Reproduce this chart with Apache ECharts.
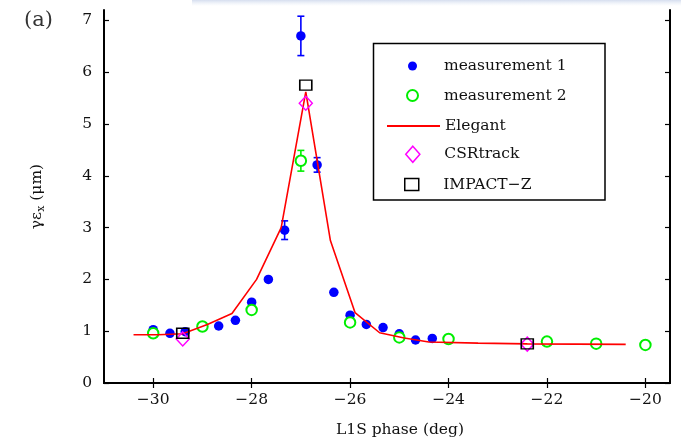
<!DOCTYPE html>
<html>
<head>
<meta charset="utf-8">
<script src="https://cdn.jsdelivr.net/npm/echarts@6/dist/echarts.min.js"></script>
<style>
  html, body { margin: 0; padding: 0; background: #fff; }
  #chart { width: 681px; height: 443px; }
</style>
</head>
<body>
<div id="chart"></div>
<script>
// measurement 1 (blue dots)
const m1X = [-30.0, -29.66, -29.35, -28.67, -28.33, -28.0, -27.66, -27.33, -27.0, -26.67, -26.33, -26.0, -25.67, -25.33, -25.0, -24.67, -24.33];
const m1Y = [1.03, 0.96, 0.99, 1.10, 1.21, 1.56, 2.0, 2.95, 6.70, 4.21, 1.75, 1.31, 1.13, 1.07, 0.95, 0.83, 0.86];
const m1Err = [0.03, 0.03, 0.03, 0.03, 0.03, 0.04, 0.04, 0.18, 0.38, 0.14, 0.03, 0.04, 0.03, 0.03, 0.03, 0.03, 0.03];

// measurement 2 (green circles)
const m2X = [-30, -29, -28, -27, -26, -25, -24, -22, -21, -20];
const m2Y = [0.96, 1.09, 1.41, 4.29, 1.17, 0.88, 0.85, 0.80, 0.76, 0.735];
const m2Err = [0.03, 0.03, 0.04, 0.20, 0.04, 0.03, 0.03, 0.03, 0.03, 0.03];

// Elegant simulation (red line)
const elX = [-30.4, -29.9, -29.4, -28.9, -28.4, -27.9, -27.4, -26.9, -26.4, -25.9, -25.4, -24.9, -24.4, -23.4, -22.4, -21.4, -20.4];
const elY = [0.93, 0.93, 0.95, 1.13, 1.34, 2.0, 3.0, 5.62, 2.75, 1.36, 0.97, 0.87, 0.79, 0.77, 0.755, 0.75, 0.745];

// CSRtrack (magenta diamonds) and IMPACT-Z (black squares)
const csrX = [-29.4, -26.9, -22.4];
const csrY = [0.85, 5.40, 0.75];
const impX = [-29.4, -26.9, -22.4];
const impY = [0.96, 5.75, 0.755];

const xTicks = [-30, -28, -26, -24, -22, -20];
const yTicks = [0, 1, 2, 3, 4, 5, 6, 7];

const FONT = 'DejaVu Serif';
const INK = '#111';
const zip = (a, b) => a.map((v, i) => [v, b[i]]);
const errData = (xs, ys, es) => xs.map((v, i) => [v, ys[i] - es[i], ys[i] + es[i]]);

function errorBar(color) {
  return function (params, api) {
    const x = api.value(0);
    const p1 = api.coord([x, api.value(2)]);
    const p2 = api.coord([x, api.value(1)]);
    const hw = 3.5;
    const st = { stroke: color, lineWidth: 1.6 };
    return {
      type: 'group',
      children: [
        { type: 'line', shape: { x1: p1[0], y1: p1[1], x2: p2[0], y2: p2[1] }, style: st },
        { type: 'line', shape: { x1: p1[0] - hw, y1: p1[1], x2: p1[0] + hw, y2: p1[1] }, style: st },
        { type: 'line', shape: { x1: p2[0] - hw, y1: p2[1], x2: p2[0] + hw, y2: p2[1] }, style: st }
      ]
    };
  };
}

const DIAMOND = 'path://M7.5,0L15,8.5L7.5,17L0,8.5Z';
const SQUARE = 'path://M0,0H14V12H0Z';

const chart = echarts.init(document.getElementById('chart'));

const axisLine = { show: true, lineStyle: { color: '#000', width: 2 } };
const tickStyle = { show: true, inside: true, length: 5, lineStyle: { color: '#000', width: 1.2 } };
const labelStyle = { fontFamily: FONT, fontSize: 15.5, color: INK };
const minus = v => String(v).replace('-', '\u2212');

function legendFor(name, left, top, h, itemStyle) {
  return {
    data: [name], left: left, top: top, orient: 'vertical', padding: 0,
    itemWidth: 53, itemHeight: h, selectedMode: false,
    itemStyle: itemStyle,
    textStyle: { fontFamily: FONT, fontSize: 15.5, color: INK }
  };
}

const option = {
  animation: false,
  backgroundColor: '#fff',
  title: {
    text: '(a)', left: 19, top: 5,
    textStyle: { fontFamily: FONT, fontSize: 21, fontWeight: 'normal', color: '#333' }
  },
  grid: { left: 104, right: 11, top: 10, bottom: 59 },
  graphic: [
    {
      type: 'rect', left: 192, top: 0, z: 1,
      shape: { width: 489, height: 6 },
      style: {
        fill: new echarts.graphic.LinearGradient(0, 0, 0, 1, [
          { offset: 0, color: '#d6deef' }, { offset: 1, color: 'rgba(230,236,247,0)' }
        ])
      }
    },
    {
      type: 'rect', z: 3,
      shape: { x: 373.5, y: 43.5, width: 231.5, height: 156.5 },
      style: { fill: '#fff', stroke: '#000', lineWidth: 1.5 }
    }
  ],
  legend: [
    legendFor('measurement 1', 408, 58, 9, { borderWidth: 0 }),
    legendFor('measurement 2', 406, 87.5, 11, { borderWidth: 1.8 }),
    legendFor('Elegant', 386, 118, 12, { color: 'rgba(0,0,0,0)', borderWidth: 0 }),
    legendFor('CSRtrack', 405, 145.5, 16, { borderWidth: 1.5 }),
    legendFor('IMPACT\u2212Z', 404, 176.5, 12, { borderWidth: 1.5 })
  ],
  xAxis: [
    {
      type: 'value', min: -31, max: -19.5, position: 'bottom',
      name: 'L1S phase (deg)', nameLocation: 'middle', nameGap: 39,
      nameTextStyle: { fontFamily: FONT, fontSize: 15.5, color: INK, padding: [0, 0, 0, 26] },
      axisLine: axisLine,
      axisTick: Object.assign({ customValues: xTicks }, tickStyle),
      axisLabel: Object.assign({ customValues: xTicks, margin: 9, formatter: minus }, labelStyle),
      splitLine: { show: false }
    },
    {
      type: 'value', min: -31, max: -19.5, position: 'top',
      axisLine: axisLine,
      axisTick: Object.assign({ customValues: xTicks }, tickStyle),
      axisLabel: { show: false },
      splitLine: { show: false }
    }
  ],
  yAxis: [
    {
      type: 'value', min: 0, max: 7.2, position: 'left',
      name: '{a|\u03b3\u03b5}{s|x}{a| (\u03bcm)}', nameLocation: 'middle', nameGap: 57,
      nameTextStyle: {
        fontFamily: FONT, fontSize: 15.5, color: INK,
        rich: {
          a: { fontFamily: FONT, fontSize: 15.5, color: INK },
          s: { fontFamily: FONT, fontSize: 11, color: INK, padding: [9, 0, 0, 0] }
        }
      },
      axisLine: axisLine,
      axisTick: Object.assign({ customValues: yTicks }, tickStyle),
      axisLabel: Object.assign({ customValues: yTicks, margin: 12, formatter: minus }, labelStyle),
      splitLine: { show: false }
    },
    {
      type: 'value', min: 0, max: 7.2, position: 'right',
      axisLine: axisLine,
      axisTick: Object.assign({ customValues: yTicks }, tickStyle),
      axisLabel: { show: false },
      splitLine: { show: false }
    }
  ],
  series: [
    {
      name: 'err1', type: 'custom', z: 2,
      renderItem: errorBar('#0000ff'),
      data: errData(m1X, m1Y, m1Err)
    },
    {
      name: 'measurement 1', type: 'scatter', z: 3,
      symbol: 'circle', symbolSize: 9.5,
      itemStyle: { color: '#0000ff', opacity: 1 },
      data: zip(m1X, m1Y)
    },
    {
      name: 'err2', type: 'custom', z: 4,
      renderItem: errorBar('#00ee00'),
      data: errData(m2X, m2Y, m2Err)
    },
    {
      name: 'measurement 2', type: 'scatter', z: 4,
      symbol: 'emptyCircle', symbolSize: 10.5,
      itemStyle: { color: '#00ee00', borderColor: '#00ee00', borderWidth: 1.8, opacity: 1 },
      data: zip(m2X, m2Y)
    },
    {
      name: 'Elegant', type: 'line', z: 5,
      symbol: 'none', showSymbol: false,
      lineStyle: { color: '#ff0000', width: 1.6 },
      itemStyle: { color: '#ff0000' },
      data: zip(elX, elY)
    },
    {
      name: 'CSRtrack', type: 'scatter', z: 6,
      symbol: DIAMOND, symbolSize: [13, 14],
      itemStyle: { color: 'rgba(0,0,0,0)', borderColor: '#ff00ff', borderWidth: 1.5, opacity: 1 },
      data: zip(csrX, csrY)
    },
    {
      name: 'IMPACT\u2212Z', type: 'scatter', z: 7,
      symbol: SQUARE, symbolSize: [12, 10],
      itemStyle: { color: 'rgba(0,0,0,0)', borderColor: '#000', borderWidth: 1.5, opacity: 1 },
      data: zip(impX, impY)
    }
  ]
};

chart.setOption(option);
</script>
</body>
</html>
